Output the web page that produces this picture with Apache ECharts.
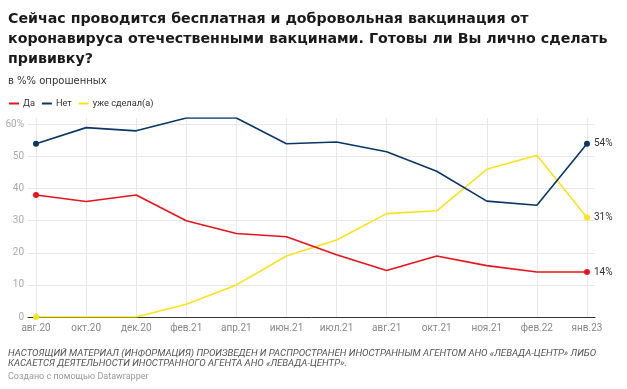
<!DOCTYPE html>
<html><head><meta charset="utf-8">
<script src="https://cdn.jsdelivr.net/npm/echarts@6/dist/echarts.min.js"></script>
<style>html,body{margin:0;padding:0;background:#fff}#c{width:627px;height:389px}</style>
</head><body><div id="c"></div>
<script>
var categories = ['авг.20','окт.20','дек.20','фев.21','апр.21','июн.21','июл.21','авг.21','окт.21','ноя.21','фев.22','янв.23'];
var yes = [38, 36, 38, 30, 26, 25, 19.4, 14.5, 19, 16, 14, 14];
var no = [54, 59, 58, 62, 62, 54, 54.5, 51.5, 45.4, 36.1, 34.8, 54];
var done = [0, 0, 0, 4, 10, 19, 24, 32.2, 33.1, 46, 50.4, 31];
var endLabels = ['14%', '54%', '31%'];
var yTicks = [0, 10, 20, 30, 40, 50, 60];
var catIdx = categories.map(function (c, i) { return i; });

var F = 'Roboto';
function pts(vals, color, endLabel) {
  var last = vals.length - 1;
  return vals.map(function (v, i) {
    if (i === 0 || i === last) {
      var d = {value: [i, v], symbol: 'circle', symbolSize: 6, itemStyle: {color: color}};
      if (i === last) d.label = {show: true, position: 'right', distance: 4, formatter: endLabel, color: '#333', fontSize: 10, fontFamily: F};
      return d;
    }
    return {value: [i, v], symbol: 'none'};
  });
}
var chart = echarts.init(document.getElementById('c'));
chart.setOption({
  animation: false,
  textStyle: {fontFamily: F},
  graphic: [
    {type: 'text', left: 8, top: 9.5, style: {text: 'Сейчас проводится бесплатная и добровольная вакцинация от\nкоронавируса отечественными вакцинами. Готовы ли Вы лично сделать\nпрививку?', font: 'bold 14.2px "DejaVu Sans"', fill: '#1a1a1a', lineHeight: 19.8}},
    {type: 'text', left: 8, top: 76, style: {text: 'в %% опрошенных', font: '10px "DejaVu Sans"', fill: '#333'}},
    {type: 'text', left: 8, top: 348, style: {text: 'НАСТОЯЩИЙ МАТЕРИАЛ (ИНФОРМАЦИЯ) ПРОИЗВЕДЕН И РАСПРОСТРАНЕН ИНОСТРАННЫМ АГЕНТОМ АНО «ЛЕВАДА-ЦЕНТР» ЛИБО\nКАСАЕТСЯ ДЕЯТЕЛЬНОСТИ ИНОСТРАННОГО АГЕНТА АНО «ЛЕВАДА-ЦЕНТР».', font: 'italic 9.6px Roboto', fill: '#555', lineHeight: 10.5}},
    {type: 'text', left: 8, top: 372, style: {text: 'Создано с помощью Datawrapper', font: '9px Roboto', fill: '#999'}}
  ],
  legend: {
    left: 4, top: 94, icon: 'rect', itemWidth: 10, itemHeight: 2, itemGap: 7,
    textStyle: {fontSize: 9.2, color: '#333', fontFamily: F, padding: [0, 0, 0, -1]},
    data: ['Да', 'Нет', 'уже сделал(а)']
  },
  grid: {left: 28, right: 32, top: 118, bottom: 72, containLabel: false},
  xAxis: {
    type: 'value', min: -0.16, max: 11.16,
    axisLine: {onZero: false, lineStyle: {color: '#333', width: 1}},
    axisTick: {show: false, customValues: catIdx},
    axisLabel: {color: '#888', fontSize: 10, margin: 6, fontFamily: F, customValues: catIdx,
      formatter: function (v) { return categories[Math.round(v)]; }},
    splitLine: {show: true, lineStyle: {color: '#e8e8e8'}}
  },
  yAxis: {
    type: 'value', min: 0, max: 62, interval: 10,
    axisLine: {show: false}, axisTick: {show: false},
    axisLabel: {color: '#aaa', fontSize: 10, margin: 4, showMaxLabel: false, fontFamily: F,
      formatter: function (v) { return v === 60 ? '60%' : String(v); }},
    splitLine: {show: true, showMaxLine: false, lineStyle: {color: '#e8e8e8'}}
  },
  series: [
    {name: 'Да', type: 'line', data: pts(yes, '#e8141c', endLabels[0]), lineStyle: {color: '#e8141c', width: 1.6}, itemStyle: {color: '#e8141c'}, z: 3},
    {name: 'Нет', type: 'line', data: pts(no, '#0b3668', endLabels[1]), lineStyle: {color: '#0b3668', width: 1.6}, itemStyle: {color: '#0b3668'}, z: 3},
    {name: 'уже сделал(а)', type: 'line', data: pts(done, '#f9e31c', endLabels[2]), lineStyle: {color: '#f9e31c', width: 1.6}, itemStyle: {color: '#f9e31c'}, z: 2}
  ]
});
</script></body></html>
